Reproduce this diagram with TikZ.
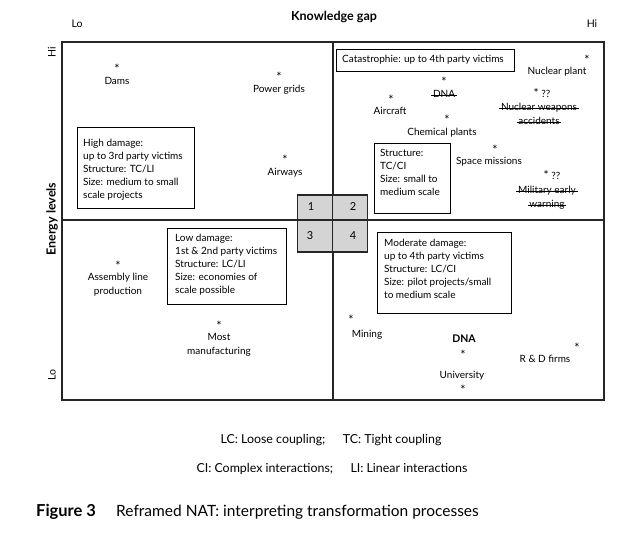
\documentclass[tikz,border=0pt]{standalone}
\usepackage{fontspec}
\setmainfont{Lato}
\begin{document}
\begin{tikzpicture}[x=1pt,y=-1pt,
  lbl/.style={inner sep=0pt, text height=7pt, text depth=2pt, font=\fontsize{10}{13}\selectfont},
  starl/.style={inner sep=0pt, anchor=base, text height=9pt, text depth=0pt, font=\fontsize{12.5}{13}\selectfont},
  axis/.style={lbl, font=\fontsize{10.5}{12}\selectfont},
  axisb/.style={lbl, font=\fontsize{12.5}{14}\selectfont\bfseries},
  strike/.style={lbl, inner xsep=1.5pt},
  strikeline/.style={line width=0.7pt},
  boxtext/.style={inner sep=0pt, align=left, anchor=north west, font=\fontsize{10}{13}\selectfont},
  infobox/.style={draw, line width=0.8pt, inner sep=0pt},
  frame/.style={line width=1.2pt, draw=black!85},
  cell/.style={draw=black!85, fill=black!17, line width=1.3pt, inner sep=0pt, minimum width=35pt},
  num/.style={lbl, font=\fontsize{11}{12}\selectfont},
  legend/.style={lbl, font=\fontsize{12.4}{14}\selectfont}
]
\useasboundingbox (0,0) rectangle (644,543);

% axis labels
\node[axis] (toplo) at (77,25) {Lo};
\node[axisb] (kgap) at (334,18) {Knowledge gap};
\node[axis] (tophi) at (592,25) {Hi};
\node[axis, rotate=90] (lefthi) at (53,52) {Hi};
\node[axisb, rotate=90] (elev) at (53,219) {Energy levels};
\node[axis, rotate=90] (leftlo) at (53,375) {Lo};

% frame
\coordinate (fnw) at (62,42);
\coordinate (fse) at (604,400);
\coordinate (vtop) at (333,42);
\coordinate (vbot) at (333,400);
\coordinate (hleft) at (62,220);
\coordinate (hright) at (604,220);
\draw[frame] (fnw) rectangle (fse);
\draw[frame] (vtop) -- (vbot);
\draw[frame] (hleft) -- (hright);

% central grid
\node[cell, minimum height=25pt] (c1) at (315,207.5) {};
\node[cell, minimum height=25pt] (c2) at (350,207.5) {};
\node[cell, minimum height=32pt] (c3) at (315,236) {};
\node[cell, minimum height=32pt] (c4) at (350,236) {};
\node[num] (n1) at (311,208) {1};
\node[num] (n2) at (353,208) {2};
\node[num] (n3) at (310,237) {3};
\node[num] (n4) at (353,237) {4};

% upper left
\node[starl] (s1) at (117,73.5) {*};
\node[lbl] (dams) at (117,82) {Dams};
\node[starl] (s2) at (279,81.5) {*};
\node[lbl] (pgrid) at (279,90) {Power grids};
\node[starl] (s3) at (285,164.5) {*};
\node[lbl] (airw) at (285,173) {Airways};
\node[infobox, minimum width=117pt, minimum height=81pt] (hdbox) at (135.5,167.5) {};
\node[boxtext] (hdtext) at (83,139) {High damage:\\up to 3rd party victims\\Structure: TC/LI\\Size: medium to small\\scale projects};

% upper right
\node[infobox, minimum width=178pt, minimum height=22pt] (catbox) at (425,60) {};
\node[lbl, anchor=west] (cattext) at (342,60.5) {Catastrophie: up to 4th party victims};
\node[starl] (s4) at (587,64.5) {*};
\node[lbl] (nplant) at (557,72) {Nuclear plant};
\node[starl] (s5) at (444,86.5) {*};
\node[strike] (dnaup) at (444,95) {DNA};
\node[starl] (s6) at (391,104.5) {*};
\node[lbl] (aircr) at (390,112) {Aircraft};
\node[starl] (s7) at (447,124.5) {*};
\node[lbl] (chem) at (442,133) {Chemical plants};
\node[lbl] (s8) at (542,95) {{\fontsize{12}{13}\selectfont *} ??};
\node[strike] (nwa) at (539,108) {Nuclear weapons};
\node[strike] (nwb) at (539,122) {accidents};
\node[starl] (s9) at (495,154.5) {*};
\node[lbl] (space) at (489,162) {Space missions};
\node[lbl] (s10) at (552,177) {{\fontsize{12}{13}\selectfont *} ??};
\node[strike] (mila) at (547,191) {Military early};
\node[strike] (milb) at (547,205) {warning};
\draw[strikeline] (dnaup.west) -- (dnaup.east);
\draw[strikeline] (nwa.west) -- (nwa.east);
\draw[strikeline] (nwb.west) -- (nwb.east);
\draw[strikeline] (mila.west) -- (mila.east);
\draw[strikeline] (milb.west) -- (milb.east);
\node[infobox, minimum width=76pt, minimum height=70pt] (strbox) at (412,178) {};
\node[boxtext] (strtext) at (380,149.3) {Structure:\\TC/CI\\Size: small to\\medium scale};

% lower left
\node[starl] (s11) at (118,270.5) {*};
\node[lbl] (assem) at (118,278) {Assembly line};
\node[lbl] (prod) at (118,292) {production};
\node[infobox, minimum width=119pt, minimum height=76pt] (ldbox) at (226.5,266) {};
\node[boxtext] (ldtext) at (175,234.3) {Low damage:\\1st \& 2nd party victims\\Structure: LC/LI\\Size: economies of\\scale possible};
\node[starl] (s12) at (219,330.5) {*};
\node[lbl] (most) at (219,338) {Most};
\node[lbl] (manuf) at (219,352) {manufacturing};

% lower right
\node[infobox, minimum width=134pt, minimum height=81pt] (mdbox) at (444,272.5) {};
\node[boxtext] (mdtext) at (384,239.3) {Moderate damage:\\up to 4th party victims\\Structure: LC/CI\\Size: pilot projects/small\\to medium scale};
\node[starl] (s13) at (351,324.5) {*};
\node[lbl] (mining) at (367,335) {Mining};
\node[lbl, font=\fontsize{10.5}{13}\selectfont\bfseries] (dnalow) at (464,340) {DNA};
\node[starl] (s14) at (463,359.5) {*};
\node[starl] (s15) at (577,352.5) {*};
\node[lbl] (rdf) at (545,360) {R \& D firms};
\node[lbl] (univ) at (462,376) {University};
\node[starl] (s16) at (463,394.5) {*};

% legend
\node[legend] (leg1) at (331,441) {LC: Loose coupling;\hspace{1.4em}TC: Tight coupling};
\node[legend] (leg2) at (332,470) {CI: Complex interactions;\hspace{1.4em}LI: Linear interactions};

% caption
\node[inner sep=0pt, anchor=base west, font=\fontsize{16.5}{18}\selectfont\bfseries] (figno) at (36,516.5) {Figure 3};
\node[inner sep=0pt, anchor=base west, font=\fontsize{15.5}{18}\selectfont] (figcap) at (116,516.5) {Reframed NAT: interpreting transformation processes};
\end{tikzpicture}
\end{document}
